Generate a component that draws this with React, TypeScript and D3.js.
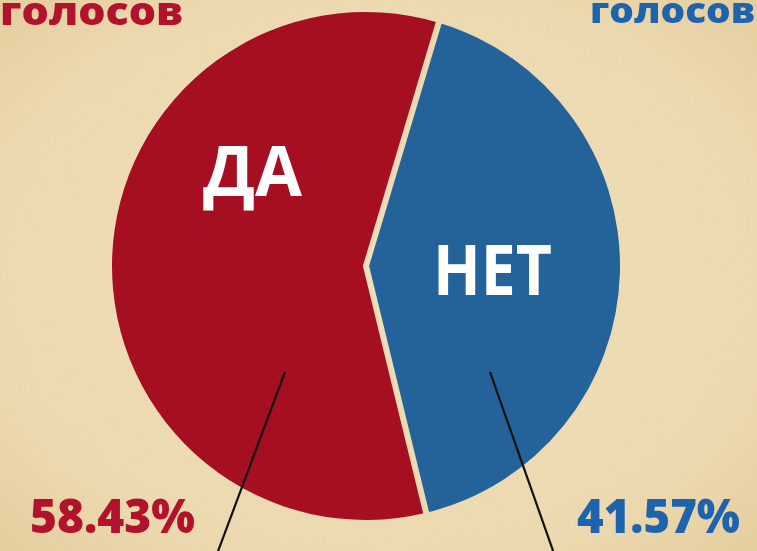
import React from "react";
import * as d3 from "d3";

const categories = ["ДА", "НЕТ"];
const values = [58.43, 41.57];
const percentLabels = ["58.43%", "41.57%"];
const headerLabels = ["голосов", "голосов"];
const sliceColors = ["#a50f21", "#23639a"];
const textColors = ["#b2122b", "#1e63ae"];

const W = 757;
const H = 551;
const cx = 366;
const cy = 266;
const R = 254;
const startDeg = 166.3;

export default function App() {
  const pie = d3
    .pie<number>()
    .sort(null)
    .startAngle((startDeg * Math.PI) / 180)
    .endAngle((startDeg * Math.PI) / 180 + 2 * Math.PI);
  const arcs = pie(values);
  const arc = d3.arc<d3.PieArcDatum<number>>().innerRadius(0).outerRadius(R);
  const font = "'Open Sans', 'DejaVu Sans', sans-serif";
  const boundaries = arcs.map((a) => {
    const ang = a.startAngle;
    return [Math.sin(ang) * (R + 10), -Math.cos(ang) * (R + 10)];
  });

  return (
    <svg
      width={W}
      height={H}
      style={{ position: "fixed", left: 0, top: 0 }}
      viewBox={`0 0 ${W} ${H}`}
    >
      <defs>
        <radialGradient id="bg" cx="50%" cy="50%" r="70%">
          <stop offset="0%" stopColor="#f3e2c0" />
          <stop offset="75%" stopColor="#efdcb3" />
          <stop offset="100%" stopColor="#e7d0a1" />
        </radialGradient>
        <filter id="grain" x="0" y="0" width="100%" height="100%">
          <feTurbulence type="fractalNoise" baseFrequency="0.9" numOctaves="2" seed="3" />
          <feColorMatrix
            type="matrix"
            values="0 0 0 0 0.55  0 0 0 0 0.42  0 0 0 0 0.2  0 0 0 0.35 -0.05"
          />
        </filter>
        <mask id="gap" maskUnits="userSpaceOnUse" x={-W} y={-H} width={2 * W} height={2 * H}>
          <rect x={-W} y={-H} width={2 * W} height={2 * H} fill="#fff" />
          {boundaries.map((p, i) => (
            <line key={i} x1={0} y1={0} x2={p[0]} y2={p[1]} stroke="#000" strokeWidth={6} strokeLinecap="round" />
          ))}
        </mask>
      </defs>
      <rect x={0} y={0} width={W} height={H} fill="url(#bg)" />
      <rect x={0} y={0} width={W} height={H} filter="url(#grain)" opacity={0.5} />

      <g transform={`translate(${cx},${cy})`} mask="url(#gap)">
        {arcs.map((a, i) => (
          <path key={categories[i]} d={arc(a) || ""} fill={sliceColors[i]} />
        ))}
      </g>

      <text
        x={203}
        y={196}
        fill="#ffffff"
        fontFamily={font}
        fontWeight={700}
        fontSize={70}
        textLength={99}
        lengthAdjust="spacingAndGlyphs"
      >
        {categories[0]}
      </text>
      <text
        x={433}
        y={295}
        fill="#ffffff"
        fontFamily={font}
        fontWeight={700}
        fontSize={70}
        textLength={119}
        lengthAdjust="spacingAndGlyphs"
      >
        {categories[1]}
      </text>

      <line x1={285} y1={372} x2={214} y2={562} stroke="#111" strokeWidth={2.2} />
      <line x1={490} y1={372} x2={557} y2={562} stroke="#111" strokeWidth={2.2} />

      <text
        x={30}
        y={533}
        fill={textColors[0]}
        fontFamily={font}
        fontWeight={800}
        fontSize={48}
        textLength={165}
        lengthAdjust="spacingAndGlyphs"
      >
        {percentLabels[0]}
      </text>
      <text
        x={577}
        y={533}
        fill={textColors[1]}
        fontFamily={font}
        fontWeight={800}
        fontSize={48}
        textLength={163}
        lengthAdjust="spacingAndGlyphs"
      >
        {percentLabels[1]}
      </text>

      <text
        x={0}
        y={25}
        fill={textColors[0]}
        fontFamily={font}
        fontWeight={800}
        fontSize={38}
        textLength={183}
        lengthAdjust="spacingAndGlyphs"
      >
        {headerLabels[0]}
      </text>
      <text
        x={590}
        y={23}
        fill={textColors[1]}
        fontFamily={font}
        fontWeight={800}
        fontSize={35}
        textLength={165}
        lengthAdjust="spacingAndGlyphs"
      >
        {headerLabels[1]}
      </text>
    </svg>
  );
}
